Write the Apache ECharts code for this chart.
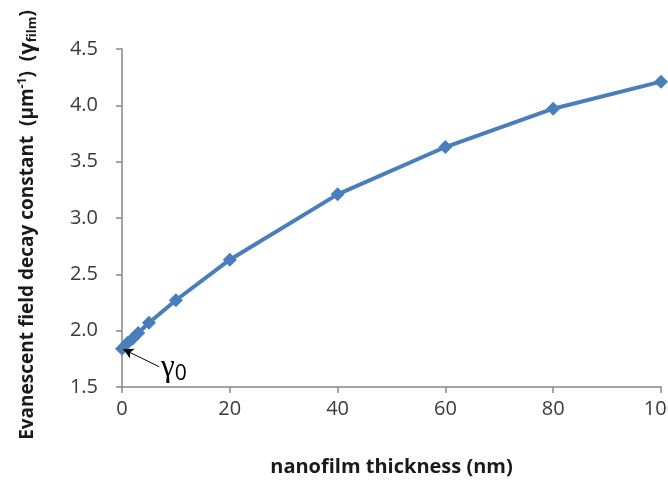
<!DOCTYPE html>
<html>
<head>
<meta charset="utf-8">
<script src="https://cdn.jsdelivr.net/npm/echarts@6/dist/echarts.min.js"></script>
<style>
  html, body { margin: 0; padding: 0; background: #fff; }
  #chart { width: 668px; height: 485px; }
</style>
</head>
<body>
<div id="chart"></div>
<script>
// Nanofilm thickness (nm) and the evanescent field decay constant (µm^-1)
const thickness = [0, 1, 2, 3, 5, 10, 20, 40, 60, 80, 100];
const decayConstant = [1.84, 1.89, 1.93, 1.98, 2.07, 2.27, 2.63, 3.21, 3.63, 3.97, 4.21];

// Axis ranges and tick steps
const xRange = [0, 100, 20];
const yRange = [1.5, 4.5, 0.5];

// Arrow pointing at the bare-fibre value gamma_0: [tail, tip] in data units
const gamma0Arrow = [[6.9, 1.68], [0.25, 1.835]];

const lineColor = '#4a7ebb';
const axisColor = '#868686';
const tickColor = '#3a3a3a';
const uiFont = '"Open Sans", "Noto Sans", sans-serif';

const chart = echarts.init(document.getElementById('chart'), null, { renderer: 'canvas' });

chart.setOption({
  animation: false,
  backgroundColor: '#ffffff',
  grid: { left: 122, right: 7, top: 49, bottom: 98, containLabel: false, outerBoundsMode: 'none' },
  xAxis: {
    type: 'value',
    min: xRange[0], max: xRange[1], interval: xRange[2],
    name: 'nanofilm thickness (nm)',
    nameLocation: 'middle',
    nameGap: 70,
    nameTextStyle: { fontFamily: uiFont, fontSize: 20, fontWeight: 'bold', color: '#1a1a1a' },
    axisLine: { lineStyle: { color: axisColor, width: 1.5 } },
    axisTick: { show: true, length: 6, lineStyle: { color: axisColor, width: 1.5 } },
    axisLabel: { fontFamily: uiFont, fontSize: 20, color: tickColor, margin: 12, hideOverlap: false },
    splitLine: { show: false }
  },
  yAxis: {
    type: 'value',
    min: yRange[0], max: yRange[1], interval: yRange[2],
    name: 'Evanescent field decay constant  (µm{sup|-1})  ({g|γ}{sub|film})',
    nameLocation: 'middle',
    nameGap: 83,
    nameTextStyle: {
      fontFamily: uiFont, fontSize: 19, fontWeight: 'bold', color: '#1a1a1a',
      padding: [0, 14, 0, 0],
      rich: {
        sup: { fontFamily: uiFont, fontSize: 12, fontWeight: 'bold', color: '#1a1a1a', verticalAlign: 'top', padding: [0, 0, 8, 0] },
        g: { fontFamily: uiFont, fontSize: 22, fontWeight: 'bold', color: '#1a1a1a' },
        sub: { fontFamily: uiFont, fontSize: 13, fontWeight: 'bold', color: '#1a1a1a', padding: [8, 0, 0, 0] }
      }
    },
    axisLine: { show: true, lineStyle: { color: axisColor, width: 1.5 } },
    axisTick: { show: true, length: 6, lineStyle: { color: axisColor, width: 1.5 } },
    axisLabel: {
      fontFamily: uiFont, fontSize: 20, color: tickColor, margin: 24,
      formatter: v => v.toFixed(1)
    },
    splitLine: { show: false }
  },
  series: [{
    type: 'line',
    data: thickness.map((t, i) => [t, decayConstant[i]]),
    symbol: 'diamond',
    symbolSize: 14,
    lineStyle: { color: lineColor, width: 4 },
    itemStyle: { color: lineColor },
    z: 3,
    markLine: {
      silent: true,
      symbol: ['none', 'arrow'],
      symbolSize: [8, 10],
      lineStyle: { color: '#000', width: 1, type: 'solid' },
      label: {
        show: true,
        position: 'start',
        distance: [2, 2],
        formatter: '{g|γ}{s|0}',
        rich: {
          g: { fontFamily: '"Liberation Serif", "DejaVu Serif", serif', fontSize: 31, color: '#000' },
          s: { fontFamily: uiFont, fontSize: 21, color: '#000', padding: [12, 0, 0, 0] }
        }
      },
      data: [[
        { coord: gamma0Arrow[0] },
        { coord: gamma0Arrow[1] }
      ]]
    }
  }]
});
</script>
</body>
</html>
